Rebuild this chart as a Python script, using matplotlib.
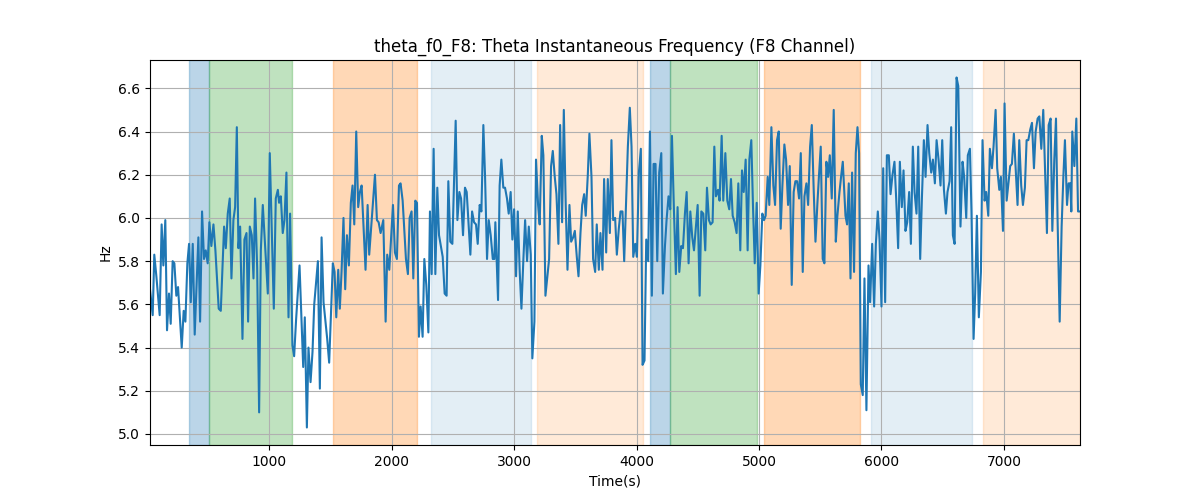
import matplotlib
matplotlib.use("Agg")
import matplotlib.pyplot as plt

# Odczytane wierzcholki sygnalu (czas [s], czestotliwosc [Hz])
czas = [
    27, 49, 62, 79, 106, 122, 136, 152, 166, 182, 196, 212, 226, 242, 256, 286, 302, 316, 332, 346,
    360, 376, 392, 422, 436, 452, 468, 482, 498, 512, 528, 545, 561, 588, 605, 632, 646, 662, 678, 692,
    708, 722, 736, 749, 763, 782, 798, 815, 828, 842, 858, 872, 885, 902, 918, 932, 948,
    989, 1005, 1038, 1054, 1071, 1081, 1095, 1111, 1125, 1141, 1158, 1171, 1190, 1204, 1220, 1248,
    1278, 1291, 1308, 1321, 1338, 1354, 1368, 1398, 1414, 1428, 1444, 1474, 1490, 1520, 1534, 1548,
    1564, 1577, 1591, 1607, 1621, 1635, 1651, 1667, 1681, 1695, 1711, 1727, 1741, 1755, 1787, 1804,
    1817, 1847, 1864, 1880, 1894, 1910,
    1932, 1951, 1964, 1981, 2011, 2027, 2043, 2060, 2073, 2090, 2117, 2133, 2147, 2163, 2177, 2193,
    2207, 2223, 2237, 2253, 2267, 2283, 2300, 2313, 2327, 2343, 2357, 2373, 2387, 2417, 2433, 2449,
    2463, 2479, 2496, 2523, 2537, 2553, 2567, 2583, 2599, 2613, 2643, 2657, 2673, 2689, 2703, 2719,
    2733, 2749, 2763, 2779, 2793, 2809, 2826, 2839,
    2847, 2869, 2882, 2896, 2912, 2926, 2942, 2956, 2972, 2986, 3000, 3016, 3030, 3046, 3060, 3076,
    3090, 3106, 3120, 3136, 3149, 3166, 3179, 3196, 3209, 3226, 3239, 3256, 3272, 3286, 3302, 3316,
    3332, 3346, 3362, 3376, 3392, 3406, 3422, 3436, 3452, 3466, 3482, 3496, 3512, 3526, 3542, 3556,
    3572, 3585, 3602, 3615, 3632, 3645, 3662, 3675, 3692, 3705, 3722, 3735, 3752, 3765, 3782, 3795,
    3809, 3825, 3839, 3855, 3869, 3885, 3899, 3929, 3945, 3959, 3973, 3989, 4003, 4019, 4035, 4049,
    4065, 4079, 4095, 4109, 4125, 4139, 4155, 4169, 4185, 4202, 4215, 4232, 4245, 4261, 4275, 4289,
    4305, 4321, 4335, 4349, 4365, 4379, 4395, 4409, 4425, 4439, 4455, 4469, 4485, 4499, 4515, 4529,
    4545, 4561, 4575, 4591, 4605, 4621, 4635, 4648, 4665, 4678, 4695, 4708, 4725, 4741,
    4757, 4771, 4785, 4801, 4817, 4831, 4847, 4861, 4875, 4891, 4907, 4921, 4937, 4951, 4965, 4981,
    4997, 5011, 5027, 5041, 5054, 5071, 5084, 5101, 5117, 5131, 5147, 5161, 5177, 5191, 5207, 5221,
    5237, 5251, 5267, 5283, 5297, 5311, 5327, 5341, 5357, 5371, 5387, 5401, 5417, 5431, 5447, 5461,
    5477, 5490, 5504, 5520, 5534, 5550, 5564, 5578, 5594, 5610, 5627, 5640, 5657, 5670, 5684,
    5706, 5719, 5733, 5747, 5760, 5776, 5790, 5804, 5817, 5831, 5847, 5861, 5877, 5894, 5907, 5924,
    5940, 5954, 5970, 5984, 6000, 6014, 6030, 6044, 6060, 6074, 6090, 6106, 6120, 6136, 6150, 6166,
    6180, 6196, 6210, 6226, 6240, 6256, 6270, 6286, 6300, 6316, 6330, 6346, 6360, 6376, 6390, 6406,
    6420, 6436, 6450, 6466, 6482, 6496, 6510, 6526, 6539, 6556, 6569, 6583, 6597, 6613, 6627,
    6645, 6662, 6675, 6692, 6705, 6722, 6735, 6752, 6765, 6779, 6795, 6812, 6825, 6842, 6855, 6872,
    6885, 6902, 6915, 6932, 6945, 6962, 6975, 6992, 7005, 7022, 7035, 7051, 7065, 7081, 7095, 7111,
    7125, 7141, 7155, 7171, 7185, 7199, 7215, 7229, 7245, 7259, 7275, 7289, 7305, 7321, 7335, 7351,
    7365, 7381, 7395, 7411, 7425, 7438, 7455, 7471, 7485, 7498, 7515, 7528, 7542, 7550, 7558, 7575,
    7591, 7605, 7621,
]

czestotliwosc = [
    5.67, 5.55, 5.83, 5.73, 5.55, 5.97, 5.78, 5.99, 5.48, 5.65, 5.51, 5.80, 5.79, 5.64, 5.68, 5.40, 5.57, 5.52, 5.79, 5.88,
    5.61, 5.88, 5.46, 5.91, 5.52, 6.03, 5.81, 5.85, 5.79, 5.98, 5.87, 5.97, 5.85, 5.58, 5.57, 5.96, 5.86, 6.02, 6.09, 5.72,
    5.99, 6.05, 6.42, 5.86, 5.96, 5.44, 5.90, 5.93, 5.52, 5.96, 5.92, 5.72, 6.09, 5.77, 5.10, 5.85, 6.06,
    5.65, 6.30, 5.58, 6.09, 6.13, 6.07, 6.10, 5.93, 5.99, 6.21, 5.54, 6.02, 5.41, 5.36, 5.53, 5.78,
    5.31, 5.54, 5.03, 5.40, 5.24, 5.38, 5.60, 5.80, 5.21, 5.91, 5.61, 5.44, 5.33, 5.79, 5.75, 5.54,
    5.76, 5.58, 5.75, 6.00, 5.67, 5.92, 5.78, 6.07, 6.15, 5.97, 6.40, 6.05, 6.12, 6.15, 5.76, 6.06,
    5.83, 6.07, 6.20, 5.99, 5.98, 5.93,
    5.99, 5.52, 5.83, 5.76, 6.06, 5.84, 5.81, 6.15, 6.16, 6.08, 5.81, 5.74, 6.00, 6.03, 5.72, 6.08,
    6.07, 5.45, 5.59, 5.45, 5.81, 5.69, 5.47, 6.03, 5.74, 6.32, 5.74, 6.14, 5.92, 5.82, 5.65, 5.64,
    6.17, 5.89, 5.88, 6.45, 5.99, 6.12, 6.09, 5.92, 6.14, 6.12, 5.83, 6.03, 5.98, 5.97, 5.88, 6.06,
    6.03, 6.43, 6.19, 5.81, 5.99, 5.92, 5.81, 5.81,
    5.98, 5.62, 6.15, 6.27, 6.14, 6.14, 6.09, 6.02, 6.12, 5.90, 6.04, 5.73, 6.03, 5.75, 5.58, 5.81,
    5.99, 5.80, 5.96, 5.83, 5.35, 5.52, 6.27, 6.06, 5.97, 6.38, 6.29, 5.64, 5.73, 5.81, 6.24, 6.31,
    6.19, 6.11, 5.88, 6.43, 5.98, 6.50, 6.05, 5.76, 6.06, 5.89, 5.91, 5.94, 5.82, 5.73, 5.93, 6.06,
    6.11, 6.01, 6.20, 6.39, 6.19, 5.81, 5.75, 5.97, 5.76, 5.93, 5.76, 6.18, 5.84, 6.18, 5.93, 6.36,
    5.99, 6.00, 5.83, 5.95, 6.03, 6.03, 5.80, 6.33, 6.51, 6.33, 5.82, 5.88, 5.82, 6.21, 6.32, 5.32,
    5.34, 5.90, 5.80, 6.40, 5.64, 6.25, 6.25, 5.80, 6.21, 6.30, 5.65, 5.87, 5.99, 6.10, 6.04, 6.38,
    6.04, 5.74, 6.05, 5.75, 5.87, 5.86, 6.02, 6.12, 5.79, 6.03, 5.91, 5.85, 5.96, 6.06, 5.64, 6.03,
    6.02, 5.85, 6.14, 5.99, 5.97, 5.98, 6.33, 6.10, 6.13, 6.08, 6.38, 6.08, 6.30, 6.08,
    6.04, 6.18, 6.01, 5.98, 5.93, 6.16, 5.85, 6.22, 6.12, 6.27, 5.85, 6.27, 6.36, 6.05, 5.79, 6.07,
    5.65, 5.78, 6.02, 5.99, 6.01, 6.19, 6.06, 6.42, 6.15, 6.06, 6.36, 6.40, 5.95, 6.15, 6.34, 6.27,
    6.06, 6.24, 5.69, 6.12, 6.17, 6.17, 6.09, 6.30, 5.75, 6.10, 6.16, 6.06, 6.33, 6.43, 6.12, 5.89,
    6.07, 6.20, 6.33, 5.81, 5.79, 6.26, 6.19, 6.29, 6.09, 6.50, 5.89, 6.01, 6.12, 6.19, 6.26,
    6.01, 5.97, 6.16, 5.72, 6.21, 5.75, 6.30, 6.42, 6.30, 5.23, 5.18, 5.72, 5.11, 5.78, 5.61, 5.88,
    5.59, 5.88, 6.03, 5.90, 5.59, 6.23, 5.61, 6.29, 6.29, 6.11, 6.20, 6.26, 6.09, 5.86, 6.26, 6.05,
    6.22, 5.94, 5.98, 6.12, 5.88, 6.33, 6.12, 6.02, 6.33, 5.81, 6.09, 6.36, 6.19, 6.43, 6.30, 6.21,
    6.27, 6.16, 6.36, 6.27, 6.15, 6.36, 6.13, 6.02, 6.12, 6.17, 6.42, 5.92, 5.88, 6.65, 6.61,
    5.96, 6.26, 6.19, 6.00, 6.29, 6.32, 6.03, 5.44, 5.65, 6.01, 5.54, 5.75, 6.36, 6.08, 6.12, 6.01,
    6.32, 6.23, 6.33, 6.50, 6.23, 6.13, 6.19, 5.94, 6.53, 6.08, 6.15, 6.24, 6.25, 6.39, 6.24, 6.06,
    6.36, 6.15, 6.06, 6.14, 6.36, 6.36, 6.41, 6.44, 6.23, 6.40, 6.46, 6.47, 6.32, 6.50, 6.23, 5.93,
    6.43, 6.46, 5.94, 6.27, 6.46, 5.99, 5.52, 5.96, 6.19, 6.36, 6.06, 6.16, 6.16, 6.03, 6.40, 6.24,
    6.46, 6.03, 6.03,
]

# Przedzialy (poczatek, koniec, kolor, przezroczystosc)
przedzialy_start = [346, 509, 1523, 2324, 3191, 4106, 4270, 5038, 5913, 6829]
przedzialy_koniec = [509, 1188, 2210, 3142, 4049, 4270, 4981, 5823, 6739, 7621]
przedzialy_kolor = ["tab:blue", "tab:green", "tab:orange", "tab:blue", "tab:orange",
                    "tab:blue", "tab:green", "tab:orange", "tab:blue", "tab:orange"]
przedzialy_alpha = [0.3, 0.3, 0.3, 0.12, 0.16, 0.3, 0.3, 0.3, 0.12, 0.16]

fig, ax = plt.subplots(figsize=(12, 5), dpi=100)

for s, k, c, a in zip(przedzialy_start, przedzialy_koniec, przedzialy_kolor, przedzialy_alpha):
    ax.axvspan(s, k, color=c, alpha=a, linewidth=1)

ax.plot(czas, czestotliwosc, color="tab:blue", linewidth=1.5)
ax.set_xlim(czas[0], czas[-1])
ax.set_title("theta_f0_F8: Theta Instantaneous Frequency (F8 Channel)")
ax.set_xlabel("Time(s)")
ax.set_ylabel("Hz")
ax.grid(True)

fig.savefig("out.png")
